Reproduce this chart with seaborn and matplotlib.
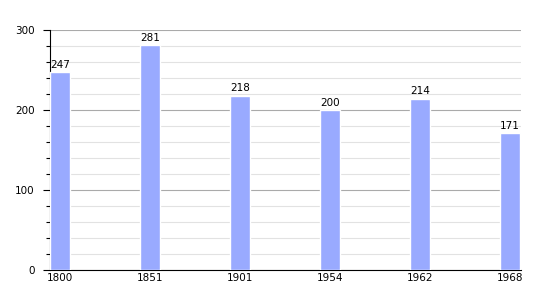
import matplotlib
matplotlib.use("Agg")
import matplotlib.pyplot as plt
import seaborn as sns
import pandas as pd
from matplotlib.ticker import MultipleLocator

years = ["1800", "1851", "1901", "1954", "1962", "1968"]
population = [247, 281, 218, 200, 214, 171]

df = pd.DataFrame({"year": years, "pop": population})

sns.set_style("white")
plt.rcParams["font.family"] = ["DejaVu Sans"]
plt.rcParams["text.color"] = "black"
plt.rcParams["xtick.color"] = "black"
plt.rcParams["ytick.color"] = "black"

fig = plt.figure(figsize=(5.5, 3.0), dpi=100)
ax = fig.add_axes([50/550, 30/300, 471/550, 240/300])

sns.barplot(data=df, x="year", y="pop", color="#99aaff", saturation=1, width=0.222, ax=ax, zorder=3)

ax.set_ylim(0, 300)
ax.set_xlim(-0.111, 5.122)
ax.yaxis.set_major_locator(MultipleLocator(100))
ax.yaxis.set_minor_locator(MultipleLocator(20))
ax.grid(axis="y", which="major", color="#aaaaaa", linewidth=0.8, zorder=0)
ax.grid(axis="y", which="minor", color="#e2e2e2", linewidth=0.8, zorder=0)
ax.set_axisbelow(True)

for s in ["top", "right"]:
    ax.spines[s].set_visible(False)
ax.spines["left"].set_color("black")
ax.spines["bottom"].set_color("black")
ax.spines["left"].set_linewidth(0.8)
ax.spines["bottom"].set_linewidth(0.8)

ax.tick_params(axis="y", which="major", length=5, width=0.8, labelsize=7.5, pad=6, left=True, color="black", labelcolor="black")
ax.tick_params(axis="y", which="minor", length=3, width=0.8, left=True, color="black")
ax.tick_params(axis="x", length=0, labelsize=7.5, pad=2, labelcolor="black")
ax.set_xlabel("")
ax.set_ylabel("")

for i, v in enumerate(population):
    ax.text(i, v + 3, str(v), ha="center", va="bottom", fontsize=7.5, color="black")

fig.savefig("out.png", dpi=100)
